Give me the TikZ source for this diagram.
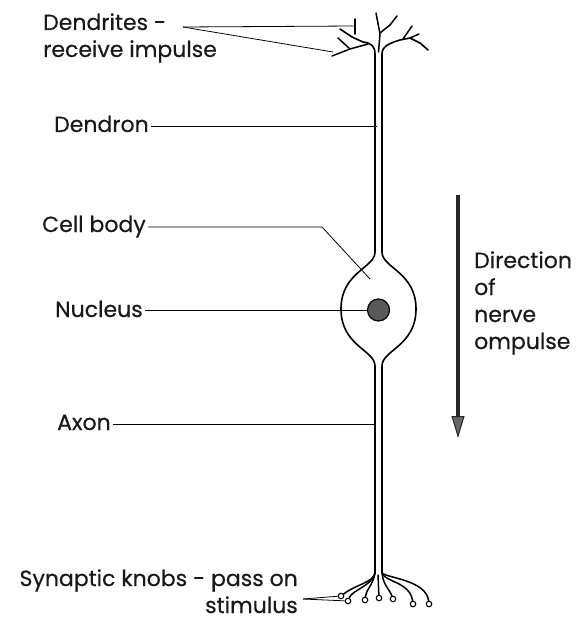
\documentclass[tikz,border=0pt]{standalone}
\usepackage{fontspec}
\setmainfont{Poppins}[FakeBold=0.4]
\usetikzlibrary{
  arrows.meta, % for arrow tips
  positioning
}

\begin{document}
\begin{tikzpicture}[
    x=1pt, y=-1pt, % pixel-like units, y down
    cell/.style={line width=1.6pt, line cap=round, line join=round}, % outline of the neuron
    dendrite/.style={line width=1.5pt, line cap=round},
    pointer/.style={line width=0.8pt}, % label lines
    lbl/.style={font=\fontsize{22}{27}\selectfont, inner xsep=2pt, inner ysep=0pt, text=black!90},
    knob/.style={circle, draw, line width=1.1pt, fill=white, inner sep=0pt, minimum size=5.5pt},
    flow/.style={line width=3.5pt, black!85, -{Triangle[width=13pt, length=22pt, line width=1pt, fill=black!60]}},
  ]
  \useasboundingbox (0,0) rectangle (576,620);

  % points on the neuron
  \coordinate (dendrite-a) at (355,26);
  \coordinate (dendrite-b) at (333,52);
  \coordinate (dendron-pt) at (377,126);
  \coordinate (cellbody-bend) at (322,227);
  \coordinate (cellbody-pt) at (370,279);
  \coordinate (axon-pt) at (375,424);
  \coordinate (axon-l) at (375,573);
  \coordinate (axon-r) at (382,573);

  % left side: dendrite, dendron, cell body, axon
  \draw[cell] (340,29) -- (352,37) -- (363,42) .. controls (371,43) and (375,46) .. (375,54)
    -- (375,252) .. controls (375,268) and (341,272) .. (341,309)
    .. controls (341,346) and (375,350) .. (375,366) -- (axon-l);
  % right side
  \draw[cell] (428,50) -- (420,43) -- (410,38) -- (400,40) .. controls (390,43) and (382,46) .. (382,54)
    -- (382,252) .. controls (382,268) and (416,272) .. (416,309)
    .. controls (416,346) and (382,350) .. (382,366) -- (axon-r);

  % dendrites
  \draw[dendrite] (378.5,52) -- (380,34) -- (376,13);
  \draw[dendrite] (380,33) -- (390,25) -- (397,16);
  \draw[dendrite] (368,44) -- (350,49) -- (332,56);
  \draw[dendrite] (350,49) -- (338,38);
  \draw[dendrite] (355,34) -- (355,19);
  \draw[dendrite] (403,39) -- (412,26);
  \draw[dendrite] (410,38) -- (419,34);

  % nucleus
  \node[circle, draw, line width=1.2pt, fill=black!65, minimum size=22pt, inner sep=0pt] (core) at (378.5,310) {};

  % synaptic knobs
  \foreach \n/\x/\y in {1/341/596, 2/348/601, 3/365/600, 4/379/598, 5/393/599, 6/413/604, 7/429/604}
    \node[knob] (k\n) at (\x,\y) {};
  \draw[dendrite] (axon-l) .. controls (374,582) and (355,585) .. (k1);
  \draw[dendrite] (axon-l) .. controls (372,586) and (352,590) .. (k2);
  \draw[dendrite] (axon-l) .. controls (373,585) and (366,590) .. (k3);
  \draw[dendrite] (378,575) -- (k4);
  \draw[dendrite] (axon-r) .. controls (383,585) and (390,590) .. (k5);
  \draw[dendrite] (axon-r) .. controls (385,582) and (410,582) .. (k6);
  \draw[dendrite] (axon-r) .. controls (387,578) and (426,580) .. (k7);

  % labels (multi-line ones sit on their last line)
  \node[lbl, anchor=base west, align=left] (dendrites) at (41,57) {Dendrites -\\receive impulse};
  \node[lbl, anchor=base west] (dendron) at (52,132) {Dendron};
  \node[lbl, anchor=base west] (cellbody) at (40,232) {Cell body};
  \node[lbl, anchor=base west] (nucleus) at (53,317) {Nucleus};
  \node[lbl, anchor=base west] (axon) at (55,430) {Axon};
  \node[lbl, anchor=base east, align=right] (knobs) at (300,613) {Synaptic knobs - pass on\\stimulus};
  \node[lbl, anchor=base west, align=left] (direction) at (472,349) {Direction\\of\\nerve\\ompulse};

  % label lines
  \coordinate (dendrites-tip) at (183,27);
  \coordinate (knobs-tip) at (303,599);
  \draw[pointer] (dendrites-tip) -- (dendrite-a);
  \draw[pointer] (dendrites-tip) -- (dendrite-b);
  \draw[pointer] (dendron.east |- dendron-pt) -- (dendron-pt);
  \draw[pointer] (cellbody.east |- cellbody-bend) -- (cellbody-bend) -- (cellbody-pt);
  \draw[pointer] (nucleus.east |- core.west) -- (core.west);
  \draw[pointer] (axon.east |- axon-pt) -- (axon-pt);
  \draw[pointer] (knobs-tip) -- (k1);
  \draw[pointer] (knobs-tip) -- (k2);

  % direction of the impulse
  \coordinate (flow-top) at (458,195);
  \coordinate (flow-end) at (458,438);
  \draw[flow] (flow-top) -- (flow-end);
\end{tikzpicture}
\end{document}
